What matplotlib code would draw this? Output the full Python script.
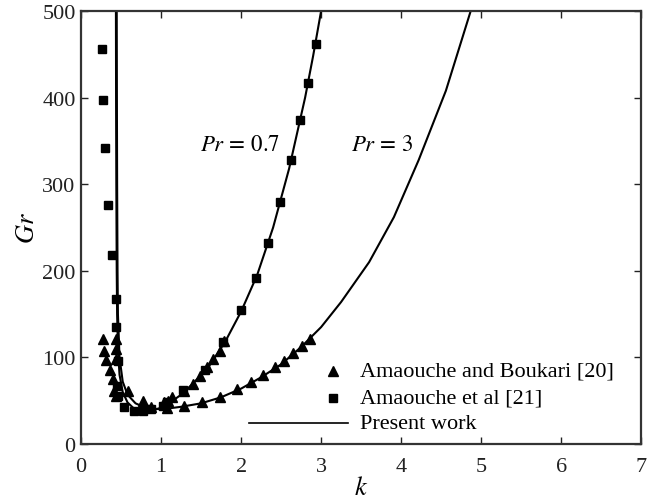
import matplotlib
matplotlib.use("Agg")
import matplotlib.pyplot as plt

plt.rcParams['font.family'] = ['Liberation Serif', 'DejaVu Serif']
plt.rcParams['mathtext.fontset'] = 'stix'

# present work, Pr = 0.7
k_07 = [0.435, 0.437, 0.44, 0.445, 0.45, 0.46, 0.48, 0.52, 0.58, 0.66, 0.78, 0.9,
        1.0, 1.1, 1.25, 1.4, 1.6, 1.8, 2.0, 2.2, 2.4, 2.6, 2.8, 2.9, 3.0]
gr_07 = [500, 400, 300, 200, 150, 110, 80, 60, 48, 41, 38, 39,
         42, 47, 57, 70, 90, 118, 153, 195, 250, 318, 400, 448, 500]

# present work, Pr = 3
k_3 = [0.445, 0.447, 0.45, 0.455, 0.46, 0.48, 0.52, 0.58, 0.68, 0.8, 1.0, 1.25,
       1.5, 1.75, 2.0, 2.25, 2.5, 2.75, 3.0, 3.25, 3.6, 3.91, 4.22, 4.56, 4.87]
gr_3 = [500, 400, 300, 200, 150, 100, 72, 57, 47, 42, 40, 43,
        47, 54, 64, 77, 92, 112, 135, 164, 210, 262, 328, 408, 500]

# Amaouche and Boukari [20]
tri_k = [0.27, 0.29, 0.31, 0.36, 0.40, 0.43, 0.43, 0.44, 0.41, 0.44, 0.58, 0.77,
         0.87, 1.03, 1.09, 1.13, 1.28, 1.40, 1.49, 1.57, 1.65, 1.74, 1.79,
         1.07, 1.28, 1.51, 1.73, 1.95, 2.12, 2.27, 2.42, 2.53, 2.65, 2.76, 2.86]
tri_gr = [121, 108, 97, 85, 75, 121, 110, 98, 61, 55, 61, 50,
          43, 48, 50, 54, 61, 69, 79, 89, 98, 107, 119,
          42, 44, 48, 54, 63, 72, 80, 89, 96, 105, 113, 121]

# Amaouche et al [21]
sq_k = [0.26, 0.27, 0.30, 0.34, 0.39, 0.44, 0.44, 0.46, 0.45, 0.46, 0.53, 0.66,
        0.77, 0.87, 1.02, 1.07, 1.27, 1.55, 1.77, 2.0, 2.19, 2.33, 2.48, 2.62,
        2.73, 2.83, 2.94]
sq_gr = [456, 397, 342, 276, 218, 168, 135, 96, 67, 55, 43, 38,
         38, 40, 44, 48, 62, 86, 118, 155, 192, 232, 279, 328,
         374, 417, 462]

fig = plt.figure(figsize=(6.65, 5.02), dpi=100)
ax = fig.add_axes([0.122, 0.1135, 0.842, 0.8625])

ax.plot(k_07, gr_07, color='black', lw=1.5)
ax.plot(k_3, gr_3, color='black', lw=1.5)
ax.plot(tri_k, tri_gr, ls='none', marker='^', ms=7, color='black')
ax.plot(sq_k, sq_gr, ls='none', marker='s', ms=5.8, color='black')

ax.text(1.49, 346, r'$Pr\,=\,0.7$', fontsize=16.5, va='center')
ax.text(3.38, 346, r'$Pr\,=\,3$', fontsize=16.5, va='center')

# legend drawn by hand to match the original layout
ax.plot([0.45], [0.169], transform=ax.transAxes, marker='^', ms=7,
        color='black', clip_on=False)
ax.plot([0.45], [0.106], transform=ax.transAxes, marker='s', ms=5.8,
        color='black', clip_on=False)
ax.plot([0.30, 0.477], [0.0485, 0.0485], transform=ax.transAxes,
        color='black', lw=1.2)
ax.text(0.498, 0.169, 'Amaouche and Boukari [20]', transform=ax.transAxes,
        fontsize=16, va='center')
ax.text(0.498, 0.106, 'Amaouche et al [21]', transform=ax.transAxes,
        fontsize=16, va='center')
ax.text(0.498, 0.0485, 'Present work', transform=ax.transAxes,
        fontsize=16, va='center')

ax.set_xlim(0, 7)
ax.set_ylim(0, 500)
ax.set_xticks(range(0, 8))
ax.set_yticks(range(0, 501, 100))
ax.tick_params(direction='in', top=True, right=True, length=5, width=1,
               labelsize=16, colors='#222222')
ax.tick_params(axis='x', pad=9)
ax.tick_params(axis='y', pad=4)
for s in ax.spines.values():
    s.set_linewidth(1.6)
    s.set_color('#333333')

ax.set_xlabel(r'$k$', fontsize=19, labelpad=0)
ax.set_ylabel(r'$Gr$', fontsize=19, labelpad=2)

fig.savefig('out.png', dpi=100)
